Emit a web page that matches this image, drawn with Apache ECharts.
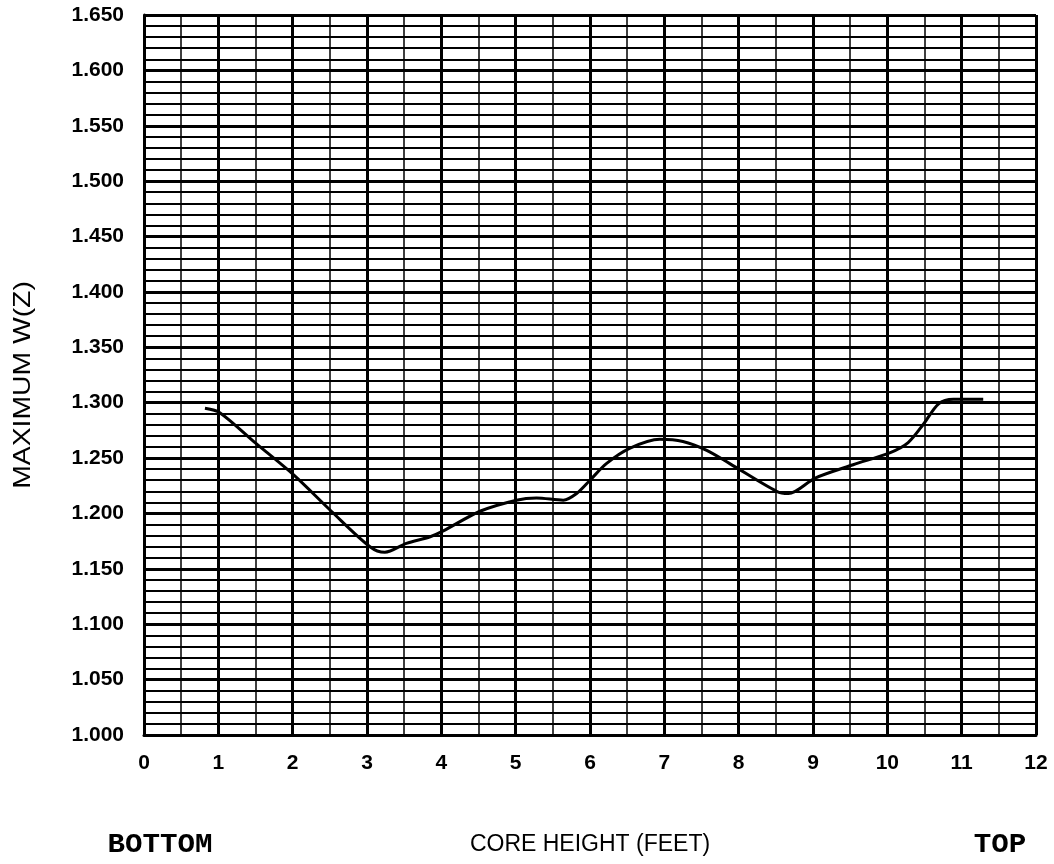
<!DOCTYPE html>
<html>
<head>
<meta charset="utf-8">
<script src="https://cdn.jsdelivr.net/npm/echarts@6/dist/echarts.min.js"></script>
<style>
html,body{margin:0;padding:0;background:#fff;}
#chart{width:1054px;height:864px;}
</style>
</head>
<body>
<div id="chart"></div>
<script>
// Core height (feet)
var coreHeight = [0.82, 1.02, 1.51, 2.01, 2.52, 3.04, 3.24, 3.53, 3.85, 4.02, 4.52, 5.01, 5.28, 5.64, 5.82, 6.00, 6.22, 6.54, 6.94, 7.25, 7.57, 7.88, 8.51, 8.67, 9.03, 9.54, 10.04, 10.28, 10.49, 10.69, 10.89, 11.29];
// Maximum W(Z)
var maxWz = [1.295, 1.291, 1.263, 1.235, 1.202, 1.170, 1.165, 1.173, 1.179, 1.184, 1.202, 1.212, 1.214, 1.212, 1.218, 1.230, 1.245, 1.259, 1.267, 1.265, 1.257, 1.245, 1.220, 1.218, 1.232, 1.244, 1.255, 1.264, 1.281, 1.299, 1.303, 1.303];

var xTitle = 'CORE HEIGHT (FEET)';
var yTitle = 'MAXIMUM W(Z)';
var leftNote = 'BOTTOM';
var rightNote = 'TOP';

var points = coreHeight.map(function (x, i) { return [x, maxWz[i]]; });

var chart = echarts.init(document.getElementById('chart'));
chart.setOption({
  animation: false,
  backgroundColor: '#ffffff',
  grid: { left: 144, right: 18, top: 15, bottom: 129 },
  xAxis: {
    type: 'value', min: 0, max: 12, interval: 1,
    name: xTitle, nameLocation: 'middle', nameGap: 98,
    nameTextStyle: { color: '#000', fontFamily: 'Liberation Sans', fontSize: 23 },
    axisLine: { show: true, lineStyle: { color: '#000', width: 3 } },
    axisTick: { show: false },
    axisLabel: { color: '#000', fontFamily: 'Liberation Sans', fontWeight: 'bold', fontSize: 21, margin: 18 },
    splitLine: { show: true, lineStyle: { color: '#000', width: 3 } },
    minorTick: { show: false, splitNumber: 2 },
    minorSplitLine: { show: true, lineStyle: { color: '#000', width: 1.5 } }
  },
  yAxis: {
    type: 'value', min: 1.0, max: 1.65, interval: 0.05,
    axisLine: { show: true, lineStyle: { color: '#000', width: 3 } },
    axisTick: { show: false },
    axisLabel: { color: '#000', fontFamily: 'Liberation Sans', fontWeight: 'bold', fontSize: 21, margin: 20,
      formatter: function (v) { return v.toFixed(3); } },
    splitLine: { show: true, lineStyle: { color: '#000', width: 3 } },
    minorTick: { show: false, splitNumber: 5 },
    minorSplitLine: { show: true, lineStyle: { color: '#000', width: 2 } }
  },
  graphic: [
    { type: 'text', x: 23, y: 385, rotation: Math.PI / 2, scaleX: 1.18,
      style: { text: yTitle, font: '24px "Liberation Sans"', fill: '#000', align: 'center', verticalAlign: 'middle' } },
    { type: 'text', x: 160, y: 845, scaleX: 1.08,
      style: { text: leftNote, font: 'bold 27px "Liberation Mono"', fill: '#000', align: 'center', verticalAlign: 'middle' } },
    { type: 'text', x: 1000, y: 845, scaleX: 1.08,
      style: { text: rightNote, font: 'bold 27px "Liberation Mono"', fill: '#000', align: 'center', verticalAlign: 'middle' } }
  ],
  series: [{
    type: 'line',
    data: points,
    smooth: 0.3,
    showSymbol: false,
    lineStyle: { color: '#000', width: 3 },
    z: 5
  }]
});
</script>
</body>
</html>
